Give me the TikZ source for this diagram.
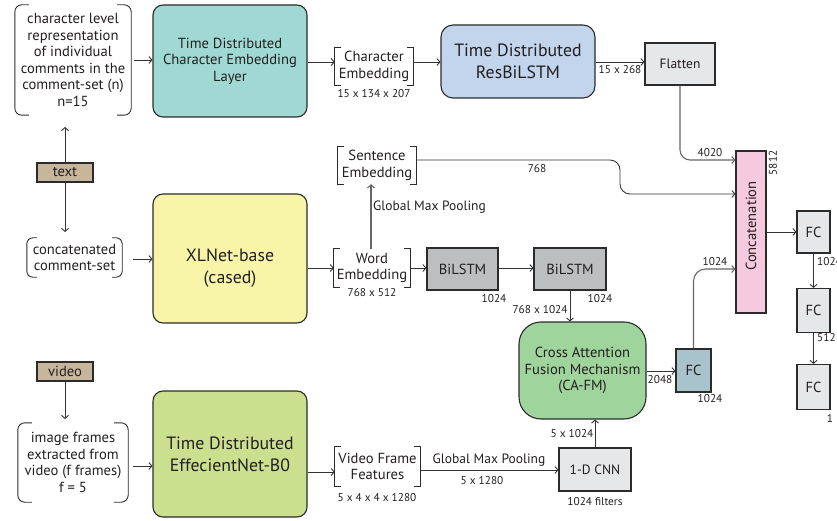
\documentclass[tikz,border=0pt]{standalone}
\usepackage{fontspec}
\setmainfont{PT Sans}
\usetikzlibrary{arrows.meta}
\definecolor{ln}{HTML}{2B2B2B}
\definecolor{ar}{HTML}{333333}
\definecolor{ag}{HTML}{666666}
\definecolor{txt}{HTML}{231F20}
\definecolor{cteal}{HTML}{A0D9D4}
\definecolor{cblue}{HTML}{C3D5EC}
\definecolor{cgrayl}{HTML}{E6E7E8}
\definecolor{cgrayd}{HTML}{BCBEC0}
\definecolor{cpink}{HTML}{F5C9DE}
\definecolor{ctan}{HTML}{C8B69C}
\definecolor{cyel}{HTML}{F8F5A9}
\definecolor{cgreen}{HTML}{9FD49C}
\definecolor{cfcb}{HTML}{A8C3CC}
\definecolor{clime}{HTML}{CBE08F}
\tikzset{
  big/.style={font=\fontsize{17.8}{22}\selectfont},
  mid/.style={font=\fontsize{14.6}{16.6}\selectfont},
  lab/.style={font=\fontsize{13.5}{15}\selectfont},
  sml/.style={font=\fontsize{11.3}{13}\selectfont},
  box/.style={draw=ln, line width=1.1pt, inner sep=0pt, align=center, text=txt},
  plain/.style={inner sep=0pt, align=center, text=txt},
  brk/.style={draw=ln, line width=0.9pt},
  arr/.style={draw=ar, line width=0.9pt, -{Straight Barb[length=3pt,width=7pt]}},
  arrg/.style={draw=ag, line width=1.1pt, -{Straight Barb[length=3pt,width=7pt]}},
}
\newcommand\rbrk[3]{%
  \draw[brk,rounded corners=#3] ([xshift=#2]#1.north west) -| (#1.south west) -- ([xshift=#2]#1.south west);
  \draw[brk,rounded corners=#3] ([xshift=-#2]#1.north east) -| (#1.south east) -- ([xshift=-#2]#1.south east);}
\begin{document}
\begin{tikzpicture}[x=1pt,y=-1pt]
\useasboundingbox (0,0) rectangle (837,521);
% ---------- top row
\node[plain,mid,minimum width=116,minimum height=110] (in1) at (73,60)
  {character level\\representation\\of individual\\comments in the\\comment-set (n)\\n=15};
\rbrk{in1}{14}{7}
\node[box,mid,fill=cteal,rounded corners=10,minimum width=154,minimum height=112] (tdce) at (230,61)
  {Time Distributed\\Character Embedding\\Layer};
\node[plain,mid,minimum width=78,minimum height=37] (ce) at (374,66.5) {Character\\Embedding};
\rbrk{ce}{6}{0}
\node[plain,sml] at (374,94) {15 x 134 x 207};
\node[box,big,fill=cblue,rounded corners=12,minimum width=154,minimum height=73] (rbl) at (518,61.5)
  {Time Distributed\\ResBiLSTM};
\node[box,lab,fill=cgrayl,minimum width=70,minimum height=42] (flat) at (680,64) {Flatten};
\node[plain,sml] at (620,70) {15 x 268};
% ---------- concat and fc column
\node[box,fill=cpink,minimum width=30,minimum height=162] (cc) at (751,232) {};
\node[plain,mid,rotate=90] at (751,226) {Concatenation};
\node[plain,sml,rotate=90] at (773,163) {5812};
\node[box,mid,fill=cgrayl,minimum width=33,minimum height=42] (fc1) at (813.5,232) {FC};
\node[box,mid,fill=cgrayl,minimum width=33,minimum height=44] (fc2) at (813.5,310.5) {FC};
\node[box,mid,fill=cgrayl,minimum width=33,minimum height=45] (fc3) at (813.5,387) {FC};
\node[plain,sml,anchor=west] at (817,262) {1024};
\node[plain,sml,anchor=west] at (817,338) {512};
\node[plain,sml] at (830,418) {1};
% ---------- middle row
\node[box,mid,fill=ctan,minimum width=56,minimum height=19] (txtin) at (65,172.5) {text};
\node[plain,mid,minimum width=95,minimum height=39] (ccs) at (74.5,257.5) {concatenated\\comment-set};
\rbrk{ccs}{10}{6}
\node[box,draw=ln,fill=cyel,rounded corners=10,minimum width=154,minimum height=129] (xl) at (230,258.5) {};
\node[plain,big] at (230,268.5) {XLNet-base\\(cased)};
\node[plain,mid,minimum width=76,minimum height=38] (we) at (372,268) {Word\\Embedding};
\rbrk{we}{6}{0}
\node[plain,sml] at (372,293) {768 x 512};
\node[plain,mid,minimum width=78,minimum height=37] (se) at (377,165.5) {Sentence\\Embedding};
\rbrk{se}{6}{0}
\node[plain,lab,anchor=west] at (373,207) {Global Max Pooling};
\node[plain,sml] at (537,169) {768};
\node[box,mid,fill=cgrayd,minimum width=71,minimum height=42] (b1) at (462.5,269) {BiLSTM};
\node[box,mid,fill=cgrayd,minimum width=72,minimum height=42] (b2) at (570,269) {BiLSTM};
\node[plain,sml] at (494,299) {1024};
\node[plain,sml] at (600,299) {1024};
\node[plain,sml] at (540,310) {768 x 1024};
\node[box,mid,fill=cgreen,rounded corners=22,minimum width=127,minimum height=97] (cafm) at (582.5,370.5)
  {Cross Attention\\Fusion Mechanism\\(CA-FM)};
\node[box,mid,fill=cfcb,minimum width=35,minimum height=43] (fcb) at (693.5,370.5) {FC};
\node[plain,sml] at (660,380) {2048};
\node[plain,sml] at (710,399) {1024};
\node[plain,sml] at (715,262) {1024};
% ---------- bottom row
\node[box,mid,fill=ctan,minimum width=56,minimum height=19] (vid) at (65,371.5) {video};
\node[plain,mid,minimum width=110,minimum height=79] (ifr) at (73,462.5)
  {image frames\\extracted from\\video (f frames)\\f = 5};
\rbrk{ifr}{14}{7}
\node[box,big,fill=clime,rounded corners=10,minimum width=154,minimum height=126] (eff) at (230,454)
  {Time Distributed\\EffecientNet-B0};
\node[plain,mid,minimum width=85,minimum height=39] (vff) at (377.5,466.5) {Video Frame\\Features};
\rbrk{vff}{6}{0}
\node[plain,sml] at (377,498) {5 x 4 x 4 x 1280};
\node[box,lab,fill=cgrayl,minimum width=72,minimum height=43] (cnn) at (595,469.5) {1-D CNN};
\node[plain,sml] at (595,502) {1024 filters};
\node[plain,lab] at (489,460) {Global Max Pooling};
\node[plain,sml] at (482,481) {5 x 1280};
\node[plain,sml] at (572,434) {5 x 1024};
% ---------- connectors
\draw[arr] ([xshift=3]in1.east) -- (tdce.west |- in1.east);
\draw[arr] (tdce.east |- 0,62) -- (ce.west |- 0,62);
\draw[arr] (ce.east |- 0,62) -- (rbl.west |- 0,62);
\draw[arr] (rbl.east |- 0,62) -- (flat.west |- 0,62);
\draw[arrg,rounded corners=10] (flat.south) |- (cc.west |- 0,160);
\node[plain,sml] at (710,153) {4020};
\draw[arr] (txtin.north) -- (65,127);
\draw[arr] (txtin.south) -- (65,232);
\draw[arr] ([xshift=11]ccs.east |- 0,259) -- (xl.west |- 0,259);
\draw[arr] (xl.east |- 0,268) -- (we.west |- 0,268);
\draw[arrg] (we.north -| 371,0) -- (se.south -| 371,0);
\draw[arr,rounded corners=10] (se.east |- 0,160) -- (620,160) -- (620,194) -- (cc.west |- 0,194);
\draw[arr] (we.east |- 0,268) -- (b1.west |- 0,268);
\draw[arr] (b1.east |- 0,268) -- (b2.west |- 0,268);
\draw[arr] (b2.south) -- (cafm.north -| b2.south);
\draw[arr] (cafm.east |- 0,371) -- (fcb.west |- 0,371);
\draw[arrg,rounded corners=12] (fcb.north) |- (cc.west |- 0,269);
\draw[arr] (cc.east |- fc1.west) -- (fc1.west);
\draw[arr] (fc1.south) -- (fc2.north);
\draw[arr] (fc2.south) -- (fc3.north);
\draw[arr] (vid.south) -- (65,419);
\draw[arr] ([xshift=5]ifr.east |- 0,466) -- (eff.west |- 0,466);
\draw[arr] (eff.east |- 0,472) -- (vff.west |- 0,472);
\draw[arr] (vff.east |- 0,470) -- (cnn.west |- 0,470);
\draw[arr] (cnn.north) -- (cafm.south -| cnn.north);
\end{tikzpicture}
\end{document}
